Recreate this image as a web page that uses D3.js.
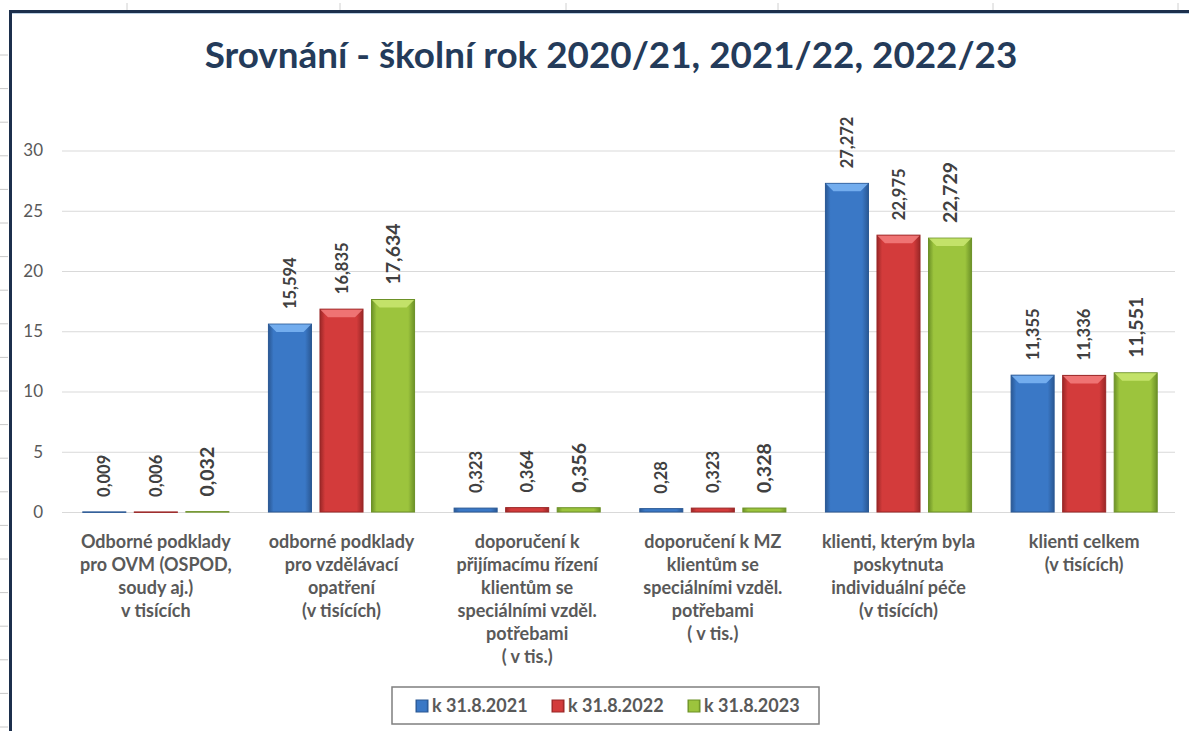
<!DOCTYPE html>
<meta charset="utf-8">
<head>
  <style>
    body { margin: 0; background: #fff; }
    text { font-family: Lato, "Open Sans", sans-serif; }
  </style>
  <title></title>
</head>
<body>
<div id="my_dataviz"></div>
<script src="https://d3js.org/d3.v7.min.js"></script>
<script>

// data
var categories = [
  ["Odborné podklady", "pro OVM (OSPOD,", "soudy aj.)", "v tisících"],
  ["odborné podklady", "pro vzdělávací", "opatření", "(v tisících)"],
  ["doporučení k", "přijímacímu řízení", "klientům se", "speciálními vzděl.", "potřebami", "( v tis.)"],
  ["doporučení k MZ", "klientům se", "speciálními vzděl.", "potřebami", "( v tis.)"],
  ["klienti, kterým byla", "poskytnuta", "individuální péče", "(v tisících)"],
  ["klienti celkem", "(v tisících)"]
];
var seriesNames = ["k 31.8.2021", "k 31.8.2022", "k 31.8.2023"];
var values2021 = [0.009, 15.594, 0.323, 0.28, 27.272, 11.355];
var values2022 = [0.006, 16.835, 0.364, 0.323, 22.975, 11.336];
var values2023 = [0.032, 17.634, 0.356, 0.328, 22.729, 11.551];
var yTicks = [0, 5, 10, 15, 20, 25, 30];
var title = "Srovnání - školní rok 2020/21, 2021/22, 2022/23";

var seriesValues = [values2021, values2022, values2023];
var colors = [
  {main: "#3a78c6", light: "#7ab2f2", dark: "#2a5894"},
  {main: "#d33b3b", light: "#f27a7a", dark: "#9a2727"},
  {main: "#9cc43d", light: "#c8e66e", dark: "#6c9127"}
];

var W = 1189, H = 731;
var svg = d3.select("#my_dataviz")
  .append("svg")
    .attr("width", W)
    .attr("height", H);

// spreadsheet grid ticks outside the chart frame
[127, 340, 566, 778, 993, 1178].forEach(function(x) {
  svg.append("line").attr("x1", x).attr("x2", x).attr("y1", 3).attr("y2", 12)
    .attr("stroke", "#d0d0d0");
});
for (var ty = 55; ty < H; ty += 33.6) {
  svg.append("line").attr("x1", 0).attr("x2", 8).attr("y1", ty).attr("y2", ty)
    .attr("stroke", "#c8c8c8");
}

// chart frame (top and left edges visible)
svg.append("line").attr("x1", 10).attr("x2", W).attr("y1", 13).attr("y2", 13)
  .attr("stroke", "#bcd0e4").attr("stroke-width", 2);
svg.append("line").attr("x1", 9).attr("x2", W).attr("y1", 11.5).attr("y2", 11.5)
  .attr("stroke", "#1c2f4c").attr("stroke-width", 3);
svg.append("line").attr("x1", 10.5).attr("x2", 10.5).attr("y1", 10).attr("y2", H)
  .attr("stroke", "#1c2f4c").attr("stroke-width", 3);

// title
var t = svg.append("text")
  .attr("x", 611)
  .attr("y", 68)
  .attr("text-anchor", "middle")
  .style("font-size", "34px")
  .style("font-weight", "bold")
  .style("fill", "#243b5a")
  .text(title);
var tw = t.node().getComputedTextLength();
t.style("font-size", (34 * 813 / tw) + "px");

// scales
var x0 = d3.scaleBand()
  .domain(d3.range(categories.length))
  .range([63, 1177])
  .paddingInner(0.213)
  .paddingOuter(0.1065);

var x1 = d3.scaleBand()
  .domain(d3.range(seriesNames.length))
  .range([0, x0.bandwidth()])
  .paddingInner(0.165);

var y = d3.scaleLinear()
  .domain([0, 30])
  .range([512, 150.5]);

// gridlines + y axis
var yAxis = svg.append("g")
  .attr("transform", "translate(62,0)")
  .call(d3.axisLeft(y).tickValues(yTicks).tickSize(-1113).tickPadding(19));
yAxis.select(".domain").remove();
yAxis.selectAll(".tick line").attr("stroke", "#d9d9d9");
yAxis.selectAll(".tick text")
  .style("font-family", "Lato, sans-serif")
  .style("font-size", "17px")
  .attr("fill", "#595959");

// gradients
var defs = svg.append("defs");
colors.forEach(function(c, i) {
  var g = defs.append("linearGradient").attr("id", "grad" + i)
    .attr("x1", "0").attr("x2", "1").attr("y1", "0").attr("y2", "0");
  g.append("stop").attr("offset", "0").attr("stop-color", c.dark);
  g.append("stop").attr("offset", "0.12").attr("stop-color", c.main);
  g.append("stop").attr("offset", "0.85").attr("stop-color", c.main);
  g.append("stop").attr("offset", "1").attr("stop-color", c.dark);
});

// bars
var fmt = function(v) { return String(v).replace(".", ","); };

seriesValues.forEach(function(vals, s) {
  var g = svg.append("g");
  vals.forEach(function(v, i) {
    var bx = x0(i) + x1(s), bw = x1.bandwidth();
    var top = y(v), h = y(0) - y(v);
    g.append("rect")
      .attr("x", bx).attr("y", top)
      .attr("width", bw).attr("height", Math.max(h, 0.5))
      .attr("fill", "url(#grad" + s + ")")
      .attr("stroke", colors[s].dark)
      .attr("stroke-width", 1);
    if (h > 10) {
      var b = 8;
      g.append("polygon")
        .attr("points", [[bx + 0.5, top + 0.5], [bx + bw - 0.5, top + 0.5],
                         [bx + bw - b, top + b], [bx + b, top + b]].join(" "))
        .attr("fill", colors[s].light)
        .attr("opacity", 0.9);
    }
    var cx = bx + bw / 2, ly = top - 15;
    g.append("text")
      .attr("transform", "translate(" + (cx + (s == 2 ? 7 : 6)) + "," + ly + ") rotate(-90)")
      .attr("text-anchor", "start")
      .style("font-size", s == 2 ? "19.5px" : "16.5px")
      .style("font-weight", "bold")
      .style("fill", "#404040")
      .text(fmt(v));
  });
});

// category labels
categories.forEach(function(lines, i) {
  var cx = x0(i) + x0.bandwidth() / 2;
  var tx = svg.append("text")
    .attr("text-anchor", "middle")
    .style("font-size", "18px")
    .style("font-weight", "bold")
    .style("fill", "#595959");
  lines.forEach(function(l, k) {
    tx.append("tspan").attr("x", cx).attr("y", 548 + k * 23).text(l);
  });
});

// legend
var legend = svg.append("g");
legend.append("rect")
  .attr("x", 392).attr("y", 687)
  .attr("width", 427).attr("height", 37)
  .attr("fill", "#fff")
  .attr("stroke", "#7f7f7f")
  .attr("stroke-width", 1.5);
var lx = [416, 552, 688];
seriesNames.forEach(function(n, i) {
  legend.append("rect")
    .attr("x", lx[i]).attr("y", 700)
    .attr("width", 12).attr("height", 12)
    .attr("fill", "url(#grad" + i + ")")
    .attr("stroke", colors[i].dark);
  legend.append("text")
    .attr("x", lx[i] + 16).attr("y", 712)
    .style("font-size", "18px")
    .style("font-weight", "bold")
    .style("fill", "#595959")
    .text(n);
});

</script>
</body>
